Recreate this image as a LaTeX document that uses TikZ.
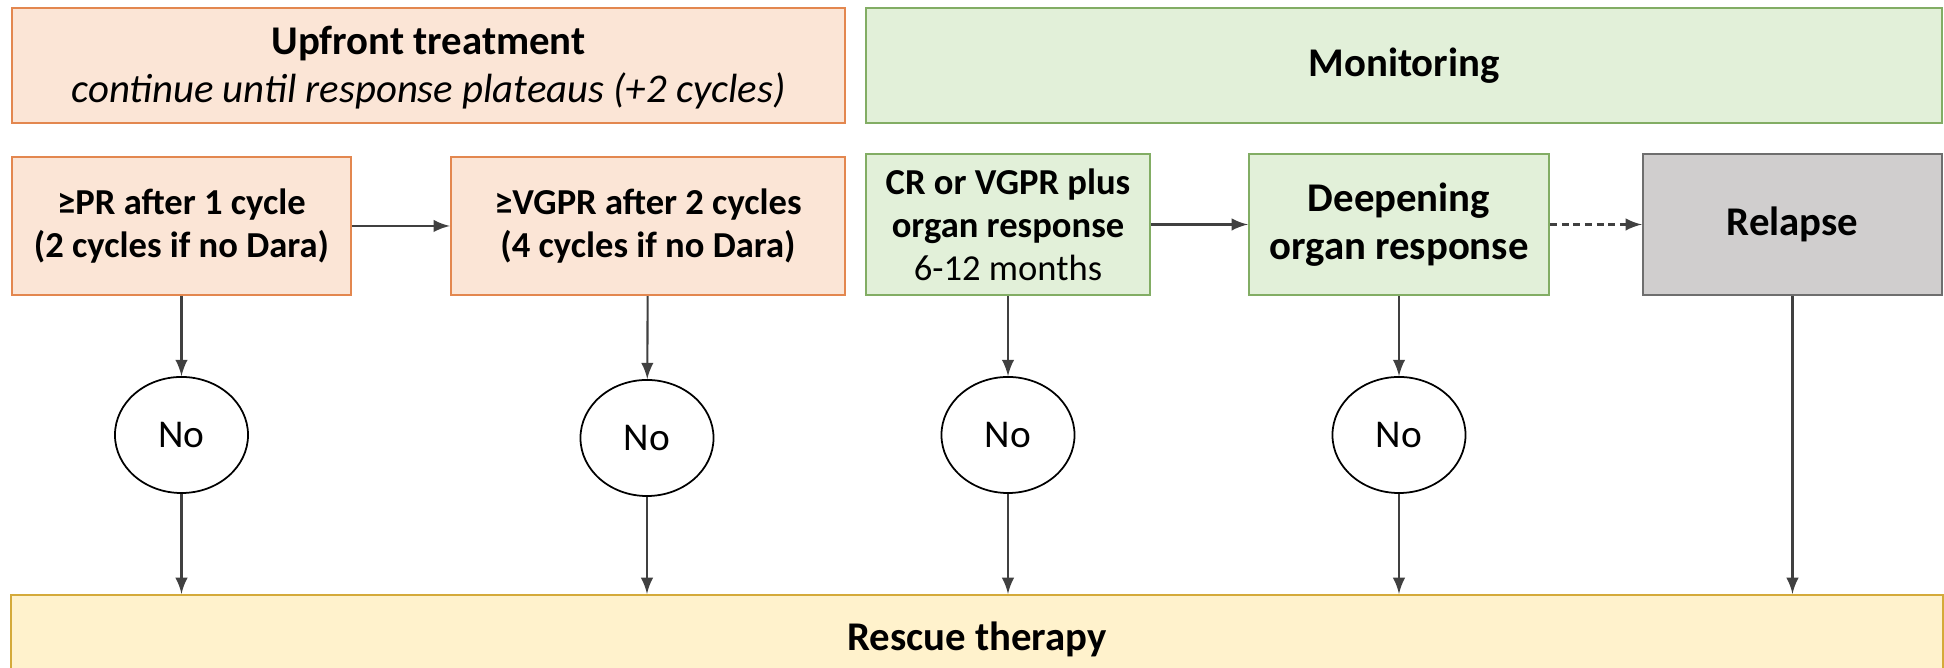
\documentclass[tikz,border=0pt]{standalone}
\usepackage{fontspec}
\setmainfont{Carlito}
\usetikzlibrary{shapes.geometric}
\definecolor{peach}{HTML}{FBE5D6}
\definecolor{rust}{HTML}{E3874F}
\definecolor{mint}{HTML}{E2F0D9}
\definecolor{leaf}{HTML}{82AD64}
\definecolor{stone}{HTML}{D0CECE}
\definecolor{slate}{HTML}{6E6E6E}
\definecolor{cream}{HTML}{FFF2CC}
\definecolor{ochre}{HTML}{D4AA3A}
\definecolor{ink}{HTML}{404040}
\tikzstyle{treat}=[draw=rust,fill=peach,line width=0.6pt,inner sep=0pt,align=center,font=\bfseries\fontsize{10.4}{12.2}\selectfont]
\tikzstyle{watch}=[draw=leaf,fill=mint,line width=0.6pt,inner sep=0pt,align=center,font=\bfseries\fontsize{10.4}{12.2}\selectfont]
\tikzstyle{header}=[font=\bfseries\fontsize{11.6}{13.8}\selectfont]
\tikzstyle{answer}=[draw=black,ellipse,line width=0.5pt,inner sep=0pt,minimum width=1.33cm,minimum height=1.16cm,font=\fontsize{11.2}{13}\selectfont]
\tikzstyle{flow}=[draw=ink,line width=0.6pt,-latex]

\begin{document}
\begin{tikzpicture}[x=0.01cm,y=-0.01cm]
\useasboundingbox (0,0) rectangle (1944,668);
% phase headers
\node[treat,header,minimum width=8.33cm,minimum height=1.15cm,text depth=0.6pt] (upfront) at (428.5,65.5)
  {Upfront treatment\\{\mdseries\itshape continue until response plateaus (+2 cycles)}};
\node[watch,header,minimum width=10.76cm,minimum height=1.15cm] (monitor) at (1404,65.5) {Monitoring};

% response checkpoints
\node[treat,minimum width=3.39cm,minimum height=1.38cm] (pr) at (181.5,226)
  {≥PR after 1 cycle\\(2 cycles if no Dara)};
\node[treat,minimum width=3.94cm,minimum height=1.38cm] (vgpr) at (648,226)
  {≥VGPR after 2 cycles\\(4 cycles if no Dara)};
\node[watch,minimum width=2.84cm,minimum height=1.41cm] (crv) at (1008,224.5)
  {CR or VGPR plus\\organ response\\{\mdseries 6-12 months}};
\node[watch,header,minimum width=3.00cm,minimum height=1.41cm] (deep) at (1399,224.5)
  {Deepening\\organ response};
\node[draw=slate,fill=stone,line width=0.6pt,header,minimum width=2.99cm,minimum height=1.41cm] (relapse) at (1792.5,224.5) {Relapse};

\node[draw=ochre,fill=cream,line width=0.6pt,header,minimum width=19.30cm,minimum height=0.88cm] (rescue) at (977,639) {Rescue therapy};

\foreach \place/\name in {{(181.5,435)/no1},
                          {(647,438)/no2},
                          {(1008,435)/no3},
                          {(1399,435)/no4}}
  \node[answer] (\name) at \place {No};

\foreach \source/\dest in {pr/no1,vgpr/no2,crv/no3,deep/no4,pr/vgpr,crv/deep}
  \draw[flow] (\source) -- (\dest);
\draw[flow,dash pattern=on 2pt off 1.3pt] (deep) -- (relapse);
\foreach \name in {no1,no2,no3,no4,relapse}
  \draw[flow] (\name) -- (\name |- rescue.north);
\end{tikzpicture}
\end{document}
